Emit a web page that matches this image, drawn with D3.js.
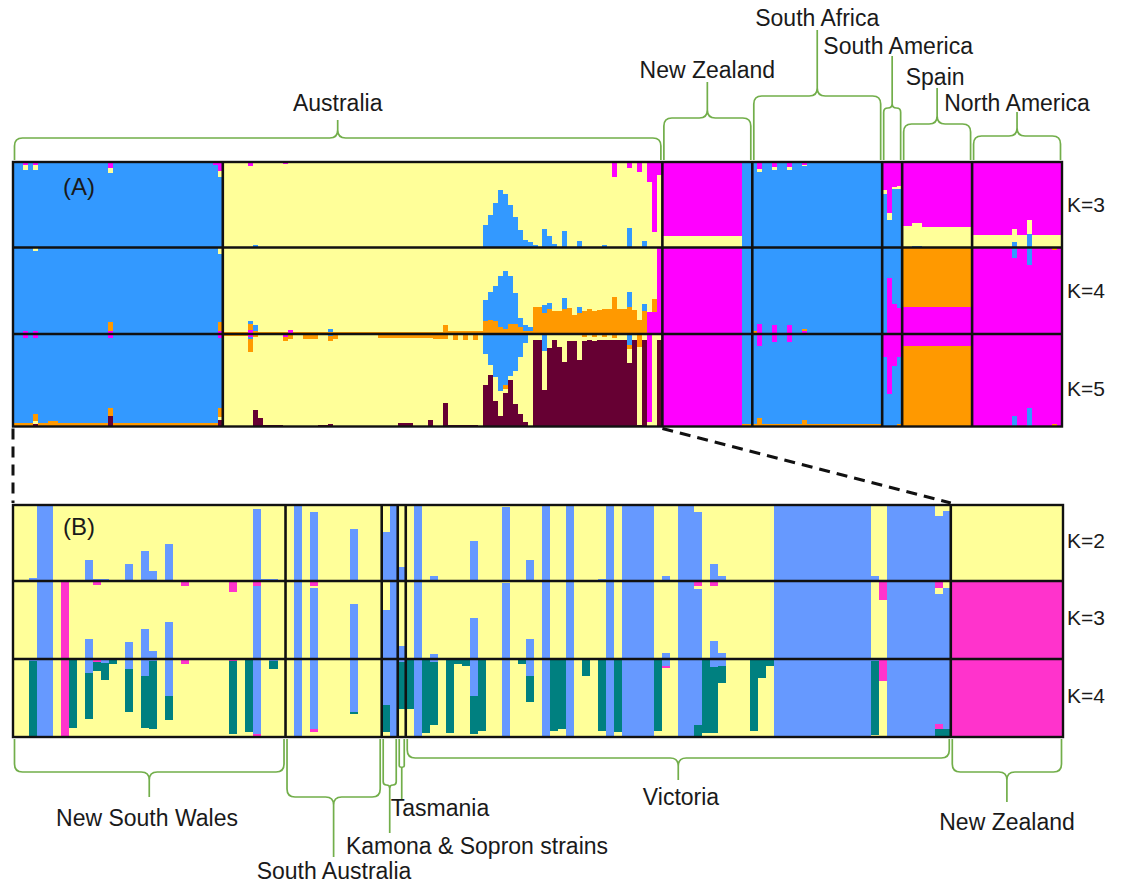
<!DOCTYPE html>
<html><head><meta charset="utf-8">
<script src="https://cdn.jsdelivr.net/npm/d3@7"></script>
<style>
body{margin:0;background:#fff;}
text{font-family:"Liberation Sans",Arial,sans-serif;fill:#1a1a1a;}
</style></head><body>
<svg id="c" width="1130" height="884"></svg>
<script>
// ---------------- DATA ----------------
// Panel A: populations (individual counts) and bracket labels
const groupsA = ["Australia (blue cluster)", "Australia", "New Zealand", "South Africa", "South America", "Spain", "North America"];
const sizesA = [42, 88, 18, 26, 4, 14, 18];
const kLabelsA = ["K=3", "K=4", "K=5"];
const bracketLabelsA = ["Australia", "New Zealand", "South Africa", "South America", "Spain", "North America"];
const bracketGroupsA = [[0, 1], [2, 2], [3, 3], [4, 4], [5, 5], [6, 6]];
const clusterOrderA = [["m", "y", "b"], ["y", "b", "o", "m"], ["m", "b", "o", "y", "r"]]; // stacking top -> bottom

// Each run: [number of individuals, dominant cluster (gets the remainder), {minor cluster fractions}, optional own order]
const A_K3 = [
  [2,"b"],[1,"b",{m:.03,y:.06}],[1,"b"],[1,"b",{m:.04,y:.05}],[14,"b"],[1,"b",{m:.07,y:.06}],[20,"b"],[1,"b",{m:.03}],[1,"b",{m:.1,y:.08}],
  [5,"y"],[1,"y",{m:.05}],[1,"y",{b:.03}],[5,"y"],[1,"y",{m:.02}],[39,"y"],
  [1,"y",{b:.26}],[1,"y",{b:.38}],[1,"y",{b:.52}],[1,"y",{b:.67}],[1,"y",{b:.62}],[1,"y",{b:.5}],[1,"y",{b:.36}],[1,"y",{b:.2}],[1,"y",{b:.09}],[1,"y",{b:.06}],[1,"y",{b:.03}],
  [1,"y"],[1,"y",{b:.22}],[1,"y",{b:.14}],[1,"y",{b:.04}],[1,"y"],[1,"y",{b:.19}],[2,"y"],[1,"y",{b:.08}],[4,"y"],[1,"y",{b:.03}],[1,"y"],[1,"y",{m:.18}],[2,"y"],
  [1,"y",{b:.23,m:.07}],[1,"y"],[1,"y",{m:.12}],[1,"y",{b:.08}],[1,"y",{m:.23}],[1,"y",{m:.82}],[1,"y",{m:.15}],
  [16,"m",{y:.14}],[2,"b"],
  [1,"b"],[1,"b",{m:.08,y:.04}],[2,"b"],[1,"b",{m:.06,y:.03}],[2,"b"],[1,"b",{m:.06,y:.03}],[2,"b"],[1,"b",{m:.03,y:.02}],[15,"b"],
  [1,"b",{m:.33,y:.05}],[1,"b",{m:.6,y:.08}],[1,"b",{m:.29,y:.03}],[1,"b",{m:.28,y:.04}],
  [2,"m",{y:.25}],[2,"m",{y:.27,b:.02}],[10,"m",{y:.24}],
  [8,"m",{y:.15}],[1,"m",{y:.16,b:.06}],[2,"m",{y:.15}],[1,"m",{y:.16,b:.16}],[6,"m",{y:.15}]
];
const A_K4 = [
  [2,"b"],[1,"b",{m:.04}],[1,"b"],[1,"b",{y:.04,m:.04}],[14,"b"],[1,"b",{o:.1,m:.04}],[21,"b"],[1,"b",{y:.07,o:.1,m:.04}],
  [5,"y",{o:.02}],[1,"y",{b:.04,o:.06,m:.05}],[1,"y",{b:.06,o:.04}],[6,"y",{o:.02}],[1,"y",{m:.05}],[7,"y",{o:.02}],[1,"y",{b:.04,o:.02}],[22,"y",{o:.02}],[1,"y",{o:.1}],[7,"y",{o:.03}],
  [1,"y",{b:.24,o:.15}],[1,"y",{b:.33,o:.16}],[1,"y",{b:.4,o:.15}],[1,"y",{b:.59,o:.08}],[1,"y",{b:.67,o:.06}],[1,"y",{b:.55,o:.12}],[1,"y",{b:.35,o:.12}],[1,"y",{b:.1,o:.08}],[1,"y",{b:.07,o:.03}],[1,"y",{b:.05,o:.03}],
  [1,"y",{o:.31}],[1,"y",{o:.31}],[1,"y",{b:.1,o:.24}],[1,"y",{b:.07,o:.29}],[1,"y",{o:.27}],[1,"y",{o:.27}],[1,"y",{b:.13,o:.29}],[1,"y",{o:.3}],[1,"y",{o:.22}],[1,"y",{b:.07,o:.24}],
  [1,"y",{o:.27}],[1,"y",{o:.29}],[1,"y",{o:.27}],[1,"y",{o:.28}],[1,"y",{o:.29}],[1,"y",{o:.29}],[1,"y",{o:.43}],[1,"y",{o:.29}],[1,"y",{o:.29}],[1,"y",{b:.18,o:.31}],
  [1,"y",{o:.28}],[1,"y",{o:.16}],[1,"y",{b:.08,o:.27}],[1,"y",{m:.26}],[1,"y",{o:.15,m:.25}],[1,"m"],
  [16,"m"],[2,"b"],
  [1,"b",{o:.04}],[1,"b",{m:.12}],[2,"b"],[1,"b",{m:.1}],[2,"b"],[1,"b",{m:.1}],[2,"b"],[1,"b",{o:.02,m:.04}],[15,"b"],
  [1,"b"],[1,"b",{m:.65}],[1,"b",{m:.35}],[1,"b",{m:.3}],
  [14,"o",{m:.31}],
  [8,"m"],[1,"m",{b:.12}],[2,"m"],[1,"m",{b:.2}],[4,"m"],[1,"m",{o:.03}],[1,"m"]
];
const A_K5 = [
  [2,"b",{o:.04}],[1,"b",{m:.04,o:.04}],[1,"b",{o:.04}],[1,"b",{m:.04,o:.07,y:.03,r:.03}],[2,"b",{o:.04}],[2,"b",{o:.06}],[10,"b",{o:.04}],[1,"b",{m:.04,o:.09,r:.11}],[21,"b",{o:.04}],[1,"b",{m:.04,o:.1,y:.03,r:.07}],
  [5,"y",{o:.02}],[1,"y",{m:.03,o:.14,b:.02}],[1,"y",{o:.03,r:.18}],[1,"y",{r:.09}],[4,"y",{r:.02}],[1,"y",{m:.03,o:.05}],[1,"y",{o:.05}],[2,"y"],[3,"y",{o:.05}],[2,"y",{r:.02}],
  [1,"y",{b:.02,o:.06,r:.03}],[1,"y",{o:.05}],[8,"y"],[4,"y",{o:.04}],[3,"y",{o:.04,r:.04}],[3,"y",{o:.04}],[1,"y",{o:.04,r:.07}],[2,"y",{o:.05}],[1,"y",{o:.05,r:.25}],
  [1,"y",{r:.02}],[1,"y",{o:.06,r:.02}],[1,"y",{r:.02}],[1,"y",{o:.06,r:.02}],[1,"y",{r:.02}],[1,"y",{o:.06,r:.02}],[1,"y",{r:.01}],
  [1,"y",{b:.22,r:.45}],[1,"y",{b:.34,r:.56}],[1,"y",{b:.47,r:.28}],[1,"y",{b:.62,r:.11}],[1,"y",{b:.55,o:.04,r:.36}],[1,"y",{b:.45,r:.5}],[1,"y",{b:.4,r:.24}],[1,"y",{b:.25,r:.13}],[1,"y",{b:.1,r:.05}],[1,"y",{r:.01}],
  [1,"y",{r:.94}],[1,"y",{r:.94}],[1,"y",{b:.18,r:.4}],[1,"y",{r:.85}],[1,"y",{r:.94}],[1,"y",{r:.86}],[1,"y",{r:.7}],[1,"y",{r:.92}],[1,"y",{r:.92}],[1,"y",{r:.72}],
  [1,"y",{o:.03,r:.92}],[1,"y",{r:.93}],[1,"y",{o:.03,r:.92}],[1,"y",{r:.93}],[1,"y",{o:.03,r:.93}],[1,"y",{r:.94}],[1,"y",{o:.04,r:.93}],[1,"y",{r:.94}],[1,"y",{r:.94}],
  [1,"y",{b:.12,o:.04,r:.69}],[1,"y",{r:.93}],[1,"y",{o:.14,r:.02}],[1,"y",{r:.93}],[1,"m",{y:.05}],[1,"y"],[1,"r",{y:.07}],
  [16,"m"],[2,"b",{o:.03}],
  [1,"b",{o:.03}],[1,"b",{m:.13,o:.09}],[2,"b",{o:.03}],[1,"b",{m:.09,o:.03}],[2,"b",{o:.03}],[1,"b",{m:.09,o:.03}],[2,"b",{o:.03}],[1,"b",{o:.07}],[15,"b",{o:.03}],
  [1,"b",{m:.25}],[1,"b",{m:.65}],[1,"b",{m:.35}],[1,"b",{m:.25,o:.03}],
  [14,"o",{m:.13}],
  [8,"m"],[1,"m",{b:.11}],[2,"m"],[1,"m",{b:.2}],[4,"m"],[1,"m",{o:.03}],[1,"m"]
];
const colorsA = {b:"#3399FF", y:"#FFFF99", m:"#FF00FF", o:"#FF9900", r:"#660033"};

// Panel B: Australian states + New Zealand
const groupsB = ["New South Wales", "South Australia", "Kamona & Sopron strains", "Tasmania", "Victoria", "New Zealand"];
const sizesB = [34, 12, 2, 1, 68, 14];
const kLabelsB = ["K=2", "K=3", "K=4"];
const clusterOrderB = [["y", "b"], ["p", "y", "b"], ["p", "b", "t", "y"]];
const B_K2 = [
  [2,"y"],[1,"y",{b:.04}],[2,"b"],[4,"y"],[1,"y",{b:.27}],[1,"y",{b:.03}],[1,"y",{b:.03}],[2,"y"],[1,"y",{b:.22}],[1,"y"],[1,"y",{b:.39}],[1,"y",{b:.13}],[1,"y"],[1,"y",{b:.49}],[10,"y"],[1,"b",{y:.05}],[1,"y",{b:.02}],[1,"y",{b:.02}],[1,"y"],
  [1,"y"],[1,"b"],[1,"y"],[1,"b",{y:.09}],[4,"y"],[1,"y",{b:.69}],[3,"y"],
  [1,"b",{y:.35}],[1,"b"],
  [1,"y",{b:.19}],
  [1,"y"],[1,"b"],[1,"y"],[1,"y",{b:.07}],[4,"y"],[1,"y",{b:.52}],[3,"y"],[1,"b",{y:.02}],[2,"y"],[1,"y",{b:.27}],[1,"y"],[1,"b"],[2,"y"],[1,"b"],[3,"y"],[1,"y",{b:.03}],[1,"b"],[1,"y"],[4,"b"],
  [1,"y"],[1,"y",{b:.07}],[1,"y"],[2,"b"],[1,"b",{y:.09}],[1,"y"],[1,"y",{b:.22}],[1,"y",{b:.07}],[6,"y"],[12,"b"],[1,"y",{b:.06}],[1,"y"],[6,"b"],[1,"b",{y:.15}],[1,"b",{y:.08}],
  [14,"y"]
];
const B_K3 = [
  [3,"y"],[2,"b"],[1,"y"],[1,"p"],[2,"y"],[1,"y",{b:.26}],[1,"y",{p:.05}],[3,"y"],[1,"y",{b:.22}],[1,"y"],[1,"y",{b:.38}],[1,"y",{b:.1}],[1,"y"],[1,"y",{b:.48}],[1,"y"],[1,"y",{p:.06}],[5,"y"],[1,"y",{p:.14}],[2,"y"],[1,"b",{p:.06}],[3,"y"],
  [1,"y"],[1,"b"],[1,"y"],[1,"b",{p:.06,y:.03}],[4,"y"],[1,"y",{b:.7}],[3,"y"],
  [1,"b",{y:.37}],[1,"b"],
  [1,"y",{b:.17}],
  [1,"y"],[1,"b"],[1,"y"],[1,"y",{b:.06}],[4,"y"],[1,"y",{b:.52}],[3,"y"],[1,"b",{y:.03}],[2,"y"],[1,"y",{b:.26}],[1,"y"],[1,"b"],[2,"y"],[1,"b"],[3,"y"],[1,"y"],[1,"b"],[1,"y"],[4,"b"],
  [1,"y"],[1,"y",{b:.08}],[1,"y"],[2,"b"],[1,"b",{p:.06,y:.04}],[1,"y"],[1,"y",{p:.07,b:.23}],[1,"y",{b:.08}],[6,"y"],[12,"b"],[1,"y"],[1,"y",{p:.24}],[6,"b"],[1,"b",{p:.09,y:.08}],[1,"b",{y:.09}],
  [14,"p"]
];
const B_K4 = [
  [2,"y"],[1,"t",{b:.03}],[2,"b"],[1,"y"],[1,"p"],[1,"y",{t:.89}],[1,"y"],[1,"y",{b:.18,t:.59}],[1,"y",{p:.04,t:.12}],[1,"y",{b:.05,t:.22}],[1,"y",{t:.06}],[1,"y"],[1,"y",{b:.13,t:.55}],[1,"y"],
  [1,"y",{b:.22,t:.66}],[1,"y",{b:.03,t:.87}],[1,"y"],[1,"y",{b:.48,t:.3}],[1,"y"],[1,"y",{p:.07}],[5,"y"],[1,"y",{p:.03,t:.93}],[1,"y"],[1,"y",{t:.94}],[1,"b",{p:.04},["b","p","t","y"]],[1,"y"],[1,"y",{b:.03,t:.1}],[1,"y"],
  [1,"y"],[1,"b"],[1,"y"],[1,"b",{p:.04,y:.06},["b","p","y","t"]],[4,"y"],[1,"y",{b:.68,t:.03}],[3,"y"],
  [1,"b",{t:.35,y:.06}],[1,"b"],
  [1,"y",{b:.04,t:.6}],
  [1,"y",{t:.64}],[1,"b"],[1,"y",{t:.95}],[1,"y",{b:.04,t:.8}],[1,"y"],[1,"y",{t:.95}],[1,"y",{t:.07}],[1,"y",{t:.09}],[1,"y",{b:.48,t:.48}],[1,"y",{t:.92}],[2,"y"],[1,"b"],[1,"y"],[1,"y",{t:.06}],
  [1,"y",{b:.22,t:.33}],[1,"y"],[1,"b"],[1,"y",{t:.92}],[1,"y",{t:.9}],[1,"b"],[1,"y"],[1,"y",{t:.22}],[1,"y"],[1,"y",{t:.92}],[1,"b"],[1,"y",{t:.94}],[4,"b"],[1,"y",{t:.92}],
  [1,"y",{b:.09,p:.03},["b","p","t","y"]],[1,"y"],[2,"b"],[1,"b",{t:.15}],[1,"y",{t:.95}],[1,"y",{b:.1,t:.85}],[1,"y",{b:.09,t:.22}],[3,"y"],[1,"y",{t:.92}],[1,"y",{t:.24}],[1,"y",{t:.09}],
  [12,"b"],[1,"y",{b:.03,t:.95}],[1,"y",{p:.28}],[6,"b"],[1,"b",{p:.07,t:.1},["b","p","t","y"]],[1,"b",{t:.1}],
  [14,"p"]
];
const colorsB = {y:"#FFFF99", b:"#6699FF", p:"#FF33CC", t:"#008080"};

// ---------------- LAYOUT ----------------
const svg = d3.select("#c");
const nA = d3.sum(sizesA), nB = d3.sum(sizesB);
const xA = d3.scaleLinear().domain([0, nA]).range([13, 1062]);
const xB = d3.scaleLinear().domain([0, nB]).range([13, 1063]);
const rowsA = [162, 247.5, 334, 426.5];
const rowsB = [505, 581, 659, 737];

function expand(runs) {
  const out = [];
  runs.forEach(([n, base, minors = {}, order]) => {
    const fr = Object.assign({}, minors);
    const s = d3.sum(Object.values(minors));
    fr[base] = (fr[base] || 0) + Math.max(0, 1 - s);
    for (let k = 0; k < n; k++) out.push({fr, order});
  });
  return out;
}

function drawPanel(rowsData, orders, colors, x, rows, sizes, n) {
  const g = svg.append("g").attr("shape-rendering", "crispEdges");
  rowsData.forEach((runs, r) => {
    const inds = expand(runs);
    if (inds.length !== n) console.warn("row", r, "has", inds.length, "expected", n);
    const y = d3.scaleLinear().domain([0, 1]).range([rows[r], rows[r + 1]]);
    const segs = [];
    inds.forEach((ind, i) => {
      let acc = 0;
      (ind.order || orders[r]).forEach(c => {
        const f = ind.fr[c] || 0;
        if (f > 0) { segs.push({i, c, a: acc, b: acc + f}); acc += f; }
      });
    });
    g.selectAll(null).data(segs).join("rect")
      .attr("x", d => x(d.i))
      .attr("width", d => x(d.i + 1) - x(d.i) + 0.6)
      .attr("y", d => y(d.a))
      .attr("height", d => Math.max(0, y(d.b) - y(d.a) + 0.4))
      .attr("fill", d => colors[d.c]);
  });
  const frame = svg.append("g").attr("stroke", "#111").attr("fill", "none");
  const cum = d3.cumsum(sizes);
  cum.slice(0, -1).forEach(c => frame.append("line").attr("x1", x(c)).attr("x2", x(c)).attr("y1", rows[0]).attr("y2", rows[3]).attr("stroke-width", 2.6));
  rows.slice(1, -1).forEach(yy => frame.append("line").attr("x1", x(0)).attr("x2", x(n)).attr("y1", yy).attr("y2", yy).attr("stroke-width", 2.6));
  frame.append("rect").attr("x", x(0)).attr("y", rows[0]).attr("width", x(n) - x(0)).attr("height", rows[3] - rows[0]).attr("stroke-width", 2.4);
}

drawPanel([A_K3, A_K4, A_K5], clusterOrderA, colorsA, xA, rowsA, sizesA, nA);
drawPanel([B_K2, B_K3, B_K4], clusterOrderB, colorsB, xB, rowsB, sizesB, nB);

// K labels
const kLab = svg.append("g").attr("font-size", 21).attr("text-anchor", "middle");
kLabelsA.forEach((t, r) => kLab.append("text").attr("x", 1086).attr("y", (rowsA[r] + rowsA[r + 1]) / 2 + (r === 2 ? 8 : 0)).attr("dy", "0.35em").text(t));
kLabelsB.forEach((t, r) => kLab.append("text").attr("x", 1086).attr("y", (rowsB[r] + rowsB[r + 1]) / 2 - 2).attr("dy", "0.35em").text(t));
svg.append("text").attr("x", 63).attr("y", 187).attr("dy", "0.35em").attr("font-size", 24).text("(A)");
svg.append("text").attr("x", 63).attr("y", 527).attr("dy", "0.35em").attr("font-size", 24).text("(B)");

// zoom dashed lines
const ausA = sizesA[0] + sizesA[1], ausB = d3.sum(sizesB.slice(0, 5));
const dash = svg.append("g").attr("stroke", "#111").attr("stroke-width", 3).attr("stroke-dasharray", "11,7").attr("fill", "none");
dash.append("line").attr("x1", xA(0)).attr("y1", rowsA[3] + 2).attr("x2", xB(0)).attr("y2", rowsB[0] - 2);
dash.append("line").attr("x1", xA(ausA)).attr("y1", rowsA[3] + 2).attr("x2", xB(ausB)).attr("y2", rowsB[0] - 2);

// brackets
const green = "#72AE4A";
function brace(x0, x1, yEnd, yH, yTip, dir) {
  const r = Math.min(8, Math.abs(yEnd - yH) / 2, (x1 - x0) / 4), xc = (x0 + x1) / 2, s = dir; // dir -1: tip up
  const rt = Math.min(8, Math.abs(yH - yTip) / 2, (x1 - x0) / 4);
  return `M${x0},${yEnd} L${x0},${yH - s * r} Q${x0},${yH} ${x0 + r},${yH} L${xc - rt},${yH} Q${xc},${yH} ${xc},${yH + s * rt} L${xc},${yTip}`
    + ` M${xc},${yH + s * rt} Q${xc},${yH} ${xc + rt},${yH} L${x1 - r},${yH} Q${x1},${yH} ${x1},${yH - s * r} L${x1},${yEnd}`;
}
const br = svg.append("g").attr("stroke", green).attr("stroke-width", 1.7).attr("fill", "none");
const labs = svg.append("g").attr("font-size", 23).attr("text-anchor", "middle");
const cumA = [0, ...d3.cumsum(sizesA)];
const topH = [138, 118, 96, 108, 124, 136], topTip = [120, 82, 30, 56, 88, 112], topLabY = [103, 70, 18, 46, 77, 103], topLabDx = [0, 0, 0, 6, -2, 0];
bracketGroupsA.forEach(([g0, g1], k) => {
  const x0 = xA(cumA[g0]) + 1.5, x1 = xA(cumA[g1 + 1]) - 1.5;
  br.append("path").attr("d", brace(x0, x1, 160, topH[k], topTip[k], -1));
  labs.append("text").attr("x", (x0 + x1) / 2 + topLabDx[k]).attr("y", topLabY[k]).attr("dy", "0.35em").text(bracketLabelsA[k]);
});
const cumB = [0, ...d3.cumsum(sizesB)];
const botH = [772, 797, 785, 767, 758, 772], botTip = [797, 857, 833, 800, 780, 802], botLabY = [818, 871, 846, 808, 797, 822], botLabX = [147, 334, 477, 440, 681, 1007];
groupsB.forEach((name, k) => {
  const x0 = xB(cumB[k]) + 1.5, x1 = xB(cumB[k + 1]) - 1.5;
  br.append("path").attr("d", brace(x0, x1, rowsB[3] + 2, botH[k], botTip[k], 1));
  labs.append("text").attr("x", botLabX[k]).attr("y", botLabY[k]).attr("dy", "0.35em").text(name);
});
</script>
</body></html>
